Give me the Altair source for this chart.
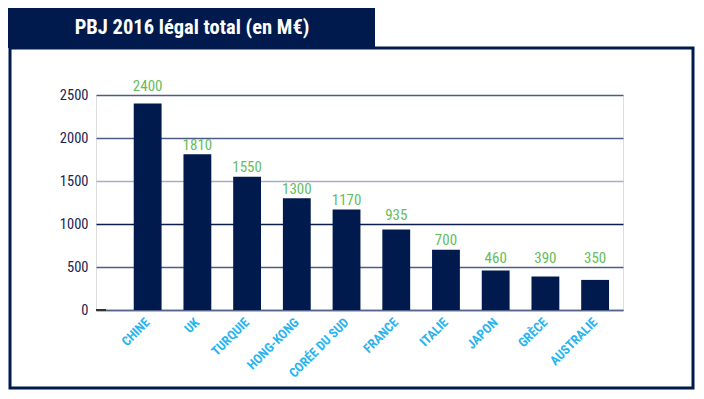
import altair as alt
import pandas as pd

countries = ["CHINE", "UK", "TURQUIE", "HONG-KONG", "CORÉE DU SUD", "FRANCE", "ITALIE", "JAPON", "GRÈCE", "AUSTRALIE"]
values = [2400, 1810, 1550, 1300, 1170, 935, 700, 460, 390, 350]
y_ticks = [0, 500, 1000, 1500, 2000, 2500]
title_text = "PBJ 2016 légal total (en M€)"

NAVY = "#011a4e"
GREEN = "#66bd5c"
CYAN = "#2ab4ee"
FONT = "Roboto Condensed, Noto Sans Condensed, DejaVu Sans Condensed, Roboto, sans-serif"

df = pd.DataFrame({"pays": countries, "valeur": values})
one = pd.DataFrame({"a": [0]})

W, H = 527, 215

x_enc = alt.X("pays:N", sort=countries,
              scale=alt.Scale(paddingInner=0.44, paddingOuter=0.52, align=0.73),
              axis=alt.Axis(title=None, labelAngle=-45, labelAlign="right", labelBaseline="middle",
                            labelColor=CYAN, labelFont=FONT, labelFontSize=13, labelFontWeight="bold",
                            labelPadding=10, ticks=False, domainColor="#56648a", domainWidth=1.5,
                            grid=False))
y_enc = alt.Y("valeur:Q", scale=alt.Scale(domain=[0, 2500], nice=False),
              axis=alt.Axis(title=None, values=y_ticks, ticks=False, domain=False, format="d",
                            labelColor="#1b2552", labelFont=FONT, labelFontSize=14.5, labelPadding=8,
                            grid=True, gridWidth=1.3,
                            gridColor=alt.ExprRef(expr="datum.value == 1500 ? '#a7aec3' : (datum.value == 1000 ? '#0c1c4c' : (datum.value == 0 ? '#56648a' : '#4e5c84'))")))

bars = alt.Chart(df).mark_bar(color=NAVY).encode(x=x_enc, y=y_enc)

# value labels: lifted above a gridline when they would cross it
labels = alt.Chart(df).transform_calculate(
    g="ceil(datum.valeur / 500) * 500"
).transform_calculate(
    ly="datum.g - datum.valeur <= 160 ? datum.g : datum.valeur"
).mark_text(color=GREEN, font=FONT, fontSize=15, baseline="alphabetic", dy=-4.5).encode(
    x=alt.X("pays:N", sort=countries),
    y=alt.Y("ly:Q"),
    text=alt.Text("valeur:Q", format="d"),
)

frame = alt.Chart(one).mark_rect(filled=False, stroke=NAVY, strokeWidth=3).encode(
    x=alt.value(-86), x2=alt.value(597), y=alt.value(-47), y2=alt.value(293))

banner = alt.Chart(one).mark_rect(fill=NAVY).encode(
    x=alt.value(-88), x2=alt.value(279), y=alt.value(-87), y2=alt.value(-47))

title = alt.Chart(one).mark_text(color="white", font=FONT, fontSize=20.5, fontWeight="bold",
                                 align="center", baseline="middle").encode(
    x=alt.value(96), y=alt.value(-67), text=alt.value(title_text))

zero_tick = alt.Chart(one).mark_rule(color="#333333", strokeWidth=2).encode(
    x=alt.value(0), x2=alt.value(10), y=alt.value(H))

chart = alt.layer(frame, banner, title, bars, labels, zero_tick).properties(
    width=W, height=H,
    padding={"left": 88, "top": 87, "right": 73, "bottom": 81},
    autosize=alt.AutoSizeParams(type="none"),
).configure_view(stroke=None).configure(background="white")

chart.save("out.html", embed_options={"renderer": "svg", "actions": False})
